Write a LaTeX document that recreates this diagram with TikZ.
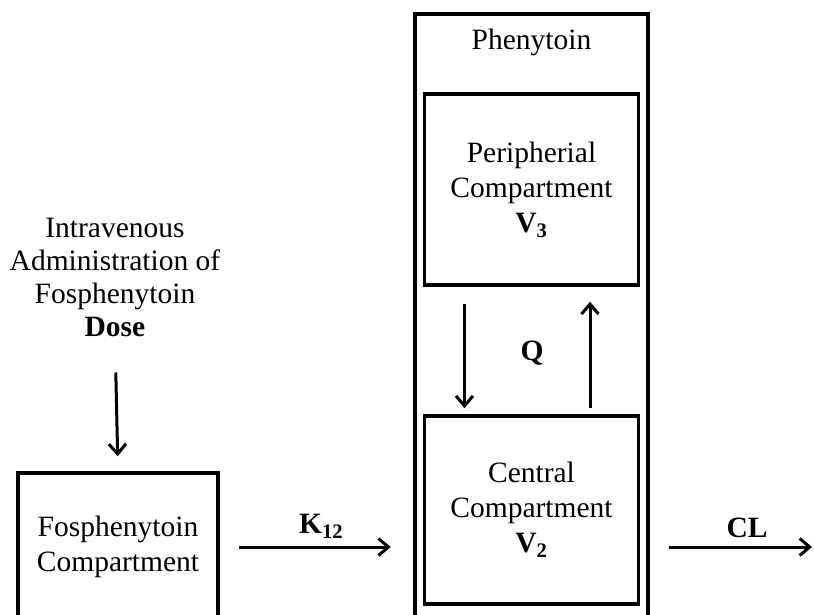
\documentclass[tikz,border=0pt]{standalone}
\usepackage{fontspec}
\setmainfont{Liberation Serif}
\usetikzlibrary{arrows.meta}

\begin{document}
\begin{tikzpicture}[
    x=1pt, y=-1pt,
    font=\fontsize{29.5}{35}\selectfont,
    compartment/.style={
        % The frame
        rectangle,
        draw=black,
        line width=3.5pt,
        minimum width=214pt,
        % The text
        align=center,
        inner sep=0pt},
    flow/.style={
        draw=black,
        line width=3pt,
        -{Straight Barb[length=10pt,width=17pt,line width=3pt]}},
    rate/.style={font=\fontsize{29.5}{35}\selectfont\bfseries}
  ]
  \useasboundingbox (0,0) rectangle (814,615);
  \clip (0,0) rectangle (814,615);

  % dose and the prodrug compartment
  \node (dose) [align=center, inner sep=0pt, font=\fontsize{29.5}{33}\selectfont] at (115,277)
    {Intravenous\\Administration of\\Fosphenytoin\\\textbf{Dose}};
  \node (fos) [compartment, minimum width=200pt, minimum height=148pt] at (118,547)
    {Fosphenytoin\\Compartment};

  % phenytoin, two compartments
  \node (phen) [compartment, minimum width=233pt, minimum height=606pt] at (531.5,317) {};
  \node (phen label) at (531.5,42) {Phenytoin};
  \node (peri) [compartment, minimum height=191pt] at (531.5,189.5)
    {Peripherial\\Compartment\\\textbf{V\textsubscript{3}}};
  \node (cen) [compartment, minimum height=188pt] at (531.5,510)
    {Central\\Compartment\\\textbf{V\textsubscript{2}}};
  \node (q) [rate] at (532,353) {Q};

  \coordinate (cl end) at (812,547);

  \draw [flow, shorten <=36pt, shorten >=15pt] (dose.south) -- (fos.north);
  \draw [flow, shorten <=19pt, shorten >=32pt] (fos.east) -- (fos.east -| cen.west)
    node [midway, above=4pt, rate] {K\textsubscript{12}};
  \draw [flow, shorten <=19pt] (phen.east |- cl end) -- (cl end)
    node [pos=0.6, above=4pt, rate] {CL};
  \draw [flow, shorten <=17pt, shorten >=6pt] ([xshift=-67pt]peri.south) -- ([xshift=-67pt]cen.north);
  \draw [flow, shorten <=6pt, shorten >=15pt] ([xshift=58.5pt]cen.north) -- ([xshift=58.5pt]peri.south);
\end{tikzpicture}
\end{document}
